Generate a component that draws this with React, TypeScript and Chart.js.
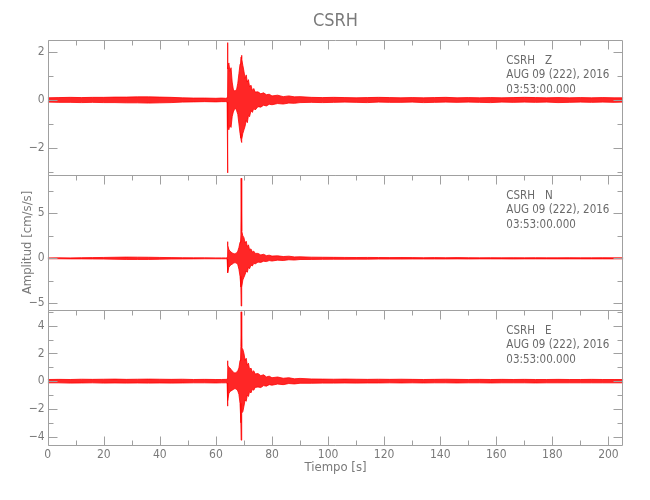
import React, { useEffect, useRef } from 'react';
import { Chart, registerables } from 'chart.js';

Chart.register(...registerables);

// ---- time samples (s) ----
const times = [
  0, 4, 8, 12, 16, 20, 24, 28, 32, 36, 40, 44, 48, 52, 56, 60,
  62, 63.5, 64.0,
  64.1, 64.3, 64.6, 65.0, 65.4, 65.8, 66.2, 66.6, 67.0, 67.4, 67.8, 68.2, 68.6, 68.9, 69.0, 69.1, 69.3, 69.6, 70.0, 70.4, 70.8, 71.2, 71.6, 72.0, 72.5, 73.0, 73.5, 74.0,
  75, 76, 77, 78, 79, 80, 82, 84, 86, 88, 90,
  94, 98, 102, 106, 110, 114, 118, 122, 126, 130, 134, 138, 142, 146, 150, 154, 158, 162, 166, 170, 174, 178, 182, 186, 190, 194, 198, 202, 205.3,
];

// ---- Z component envelope (cm/s/s) ----
const zHi = [
  0.09, 0.10, 0.11, 0.10, 0.11, 0.11, 0.12, 0.12, 0.13, 0.13, 0.12, 0.11, 0.09, 0.08, 0.08, 0.07,
  0.08, 0.07, 0.09,
  2.40, 1.30, 1.55, 1.20, 1.35, 0.75, 0.45, 0.38, 0.40, 0.45, 0.70, 1.10, 1.50, 1.75, 1.80, 1.87, 1.70, 1.45,
  1.20, 0.90, 1.05, 0.75, 0.85, 0.55, 0.62, 0.40, 0.48, 0.33,
  0.34, 0.26, 0.30, 0.22, 0.24, 0.17, 0.20, 0.14, 0.17, 0.13, 0.14,
  0.11, 0.10, 0.11, 0.10, 0.09, 0.10, 0.11, 0.10, 0.09, 0.10, 0.09, 0.10, 0.11, 0.09, 0.10, 0.09, 0.10, 0.09, 0.10, 0.11, 0.10, 0.09, 0.10, 0.09, 0.10, 0.09, 0.10, 0.09, 0.09,
];
const zLo = [
  -0.09, -0.10, -0.10, -0.11, -0.10, -0.11, -0.11, -0.12, -0.12, -0.13, -0.12, -0.11, -0.09, -0.08, -0.07, -0.08,
  -0.07, -0.07, -0.09,
  -3.05, -1.10, -1.25, -1.05, -1.15, -0.70, -0.50, -0.40, -0.35, -0.45, -0.60, -1.00, -1.40, -1.60, -1.70, -1.78, -1.65, -1.40,
  -1.25, -1.10, -0.85, -0.95, -0.65, -0.70, -0.45, -0.52, -0.35, -0.42,
  -0.28, -0.30, -0.22, -0.25, -0.18, -0.20, -0.15, -0.17, -0.13, -0.14, -0.11,
  -0.10, -0.11, -0.10, -0.09, -0.10, -0.11, -0.09, -0.10, -0.10, -0.09, -0.11, -0.10, -0.09, -0.10, -0.09, -0.10, -0.11, -0.09, -0.10, -0.09, -0.10, -0.09, -0.11, -0.10, -0.09, -0.10, -0.09, -0.10, -0.09,
];

// ---- N component envelope ----
const nHi = [
  0.05, 0.06, 0.05, 0.07, 0.08, 0.10, 0.12, 0.14, 0.13, 0.12, 0.10, 0.08, 0.07, 0.06, 0.06, 0.05,
  0.05, 0.05, 0.06,
  1.85, 1.40, 1.00, 0.80, 0.70, 0.60, 0.55, 0.50, 0.55, 0.60, 0.80, 1.20, 1.80, 2.60, 8.90, 6.00, 3.00, 2.50,
  2.30, 1.70, 1.90, 1.30, 1.50, 0.95, 1.05, 0.70, 0.80, 0.55,
  0.55, 0.38, 0.45, 0.30, 0.35, 0.25, 0.28, 0.20, 0.24, 0.16, 0.17,
  0.13, 0.12, 0.11, 0.10, 0.09, 0.10, 0.09, 0.08, 0.09, 0.08, 0.07, 0.08, 0.07, 0.08, 0.07, 0.06, 0.07, 0.06, 0.07, 0.06, 0.07, 0.06, 0.06, 0.07, 0.06, 0.06, 0.07, 0.06, 0.06,
];
const nLo = [
  -0.05, -0.05, -0.06, -0.06, -0.07, -0.08, -0.10, -0.12, -0.12, -0.12, -0.10, -0.08, -0.07, -0.06, -0.05, -0.05,
  -0.05, -0.05, -0.06,
  -1.10, -1.60, -1.00, -0.85, -0.70, -0.65, -0.55, -0.50, -0.50, -0.55, -0.70, -1.20, -2.00, -3.20, -5.30, -3.50, -3.20, -2.40,
  -2.10, -1.80, -1.40, -1.55, -1.00, -1.15, -0.75, -0.85, -0.55, -0.62,
  -0.42, -0.45, -0.32, -0.36, -0.25, -0.30, -0.20, -0.24, -0.16, -0.19, -0.13,
  -0.12, -0.11, -0.10, -0.10, -0.09, -0.09, -0.08, -0.08, -0.08, -0.07, -0.07, -0.07, -0.07, -0.06, -0.07, -0.06, -0.06, -0.06, -0.07, -0.06, -0.06, -0.06, -0.06, -0.06, -0.06, -0.06, -0.06, -0.06, -0.06,
];

// ---- E component envelope ----
const eHi = [
  0.12, 0.13, 0.12, 0.14, 0.13, 0.14, 0.15, 0.13, 0.14, 0.15, 0.14, 0.13, 0.14, 0.12, 0.13, 0.12,
  0.12, 0.13, 0.14,
  1.47, 1.15, 1.00, 0.95, 0.85, 0.75, 0.65, 0.60, 0.60, 0.65, 0.75, 0.95, 1.50, 2.50, 5.00, 3.60, 2.40, 2.30,
  2.00, 1.50, 1.65, 1.15, 1.30, 0.85, 0.95, 0.65, 0.75, 0.52,
  0.55, 0.40, 0.46, 0.31, 0.36, 0.25, 0.30, 0.21, 0.25, 0.17, 0.20,
  0.16, 0.15, 0.14, 0.15, 0.14, 0.13, 0.14, 0.13, 0.14, 0.13, 0.12, 0.13, 0.14, 0.13, 0.12, 0.13, 0.12, 0.13, 0.12, 0.13, 0.12, 0.12, 0.13, 0.12, 0.12, 0.13, 0.12, 0.12, 0.12,
];
const eLo = [
  -0.12, -0.12, -0.14, -0.13, -0.12, -0.14, -0.13, -0.14, -0.13, -0.14, -0.13, -0.14, -0.13, -0.12, -0.12, -0.13,
  -0.12, -0.12, -0.13,
  -1.80, -1.40, -0.90, -0.75, -0.70, -0.65, -0.60, -0.55, -0.55, -0.60, -0.70, -0.95, -1.60, -3.00, -4.25, -3.00, -2.30, -2.20,
  -1.80, -1.35, -1.45, -1.00, -1.10, -0.75, -0.85, -0.58, -0.65, -0.45,
  -0.42, -0.46, -0.32, -0.36, -0.25, -0.29, -0.21, -0.25, -0.17, -0.20, -0.15,
  -0.15, -0.14, -0.14, -0.13, -0.14, -0.13, -0.13, -0.12, -0.13, -0.12, -0.13, -0.12, -0.12, -0.13, -0.12, -0.12, -0.13, -0.12, -0.12, -0.12, -0.13, -0.12, -0.12, -0.12, -0.12, -0.12, -0.12, -0.12, -0.12,
];

// ---- axes ----
const xMin = 0;
const xMax = 205.3;
const xTicks = [0, 20, 40, 60, 80, 100, 120, 140, 160, 180, 200];
const xMinorTicks = [10, 30, 50, 70, 90, 110, 130, 150, 170, 190];

const zRange = [-3.14, 2.51];
const zTicks = [-2, 0, 2];
const zMinor = [-3, -1, 1];
const nRange = [-5.74, 9.26];
const nTicks = [-5, 0, 5];
const nMinor = [-2.5, 2.5, 7.5];
const eRange = [-4.6, 5.13];
const eTicks = [-4, -2, 0, 2, 4];
const eMinor = [-3, -1, 1, 3, 5];

const titleText = 'CSRH';
const xTitle = 'Tiempo [s]';
const yTitle = 'Amplitud [cm/s/s]';
const stationLabels = ['CSRH   Z', 'CSRH   N', 'CSRH   E'];
const dateText = 'AUG 09 (222), 2016';
const timeText = '03:53:00.000';

const FONT = '"Liberation Sans Narrow", "DejaVu Sans Condensed", "Liberation Sans", sans-serif';
const AXIS_COLOR = '#a0a0a0';
const TEXT_COLOR = '#7a7a7a';
const TRACE = '#ff0000';
const TRACE_FILL = 'rgba(255,0,0,0.85)';

const panels = [
  { id: 'yZ', hi: zHi, lo: zLo, range: zRange, ticks: zTicks, minor: zMinor, label: stationLabels[0] },
  { id: 'yN', hi: nHi, lo: nLo, range: nRange, ticks: nTicks, minor: nMinor, label: stationLabels[1] },
  { id: 'yE', hi: eHi, lo: eLo, range: eRange, ticks: eTicks, minor: eMinor, label: stationLabels[2] },
];

const fmt = (v: number) => (v < 0 ? '\u2212' + Math.abs(v) : String(v));

export default function App() {
  const ref = useRef<HTMLCanvasElement | null>(null);

  useEffect(() => {
    if (!ref.current) return;

    const datasets: any[] = [];
    panels.forEach((p) => {
      datasets.push({
        data: times.map((t, i) => ({ x: t, y: p.hi[i] })),
        yAxisID: p.id,
        borderColor: TRACE,
        borderWidth: 0.8,
        pointRadius: 0,
        tension: 0,
        fill: false,
      });
      datasets.push({
        data: times.map((t, i) => ({ x: t, y: p.lo[i] })),
        yAxisID: p.id,
        borderColor: TRACE,
        borderWidth: 0.8,
        pointRadius: 0,
        tension: 0,
        fill: '-1',
        backgroundColor: TRACE_FILL,
      });
    });

    const yScale = (p: any) => ({
      type: 'linear',
      position: 'left',
      stack: 'panels',
      stackWeight: 1,
      min: p.range[0],
      max: p.range[1],
      grid: { display: false, drawTicks: false },
      border: { display: false },
      afterBuildTicks: (axis: any) => {
        axis.ticks = p.ticks.map((v: number) => ({ value: v }));
      },
      afterFit: (axis: any) => {
        axis.width = 40;
      },
      ticks: {
        autoSkip: false,
        padding: 3,
        color: TEXT_COLOR,
        font: { family: FONT, size: 12 },
        callback: (v: any) => fmt(Number(v)),
      },
    });

    const decor = {
      id: 'decor',
      afterDatasetsDraw(chart: any) {
        const { ctx, chartArea: ca, scales } = chart;
        const xs = scales.x;
        const L = Math.round(ca.left) + 0.5;
        const R = Math.round(ca.right) - 0.5;
        ctx.save();
        ctx.strokeStyle = AXIS_COLOR;
        ctx.lineWidth = 1;
        panels.forEach((p, idx) => {
          const ys = scales[p.id];
          const T = Math.round(ys.top) + 0.5;
          const B = Math.round(ys.bottom) + 0.5;
          ctx.beginPath();
          ctx.rect(L, T, R - L, B - T);
          xTicks.forEach((v) => {
            const px = Math.round(xs.getPixelForValue(v)) + 0.5;
            ctx.moveTo(px, T); ctx.lineTo(px, T + 9);
          });
          xMinorTicks.forEach((v) => {
            const px = Math.round(xs.getPixelForValue(v)) + 0.5;
            ctx.moveTo(px, T); ctx.lineTo(px, T + 5);
          });
          if (idx === panels.length - 1) {
            xTicks.forEach((v) => {
              const px = Math.round(xs.getPixelForValue(v)) + 0.5;
              ctx.moveTo(px, B); ctx.lineTo(px, B - 9);
            });
            xMinorTicks.forEach((v) => {
              const px = Math.round(xs.getPixelForValue(v)) + 0.5;
              ctx.moveTo(px, B); ctx.lineTo(px, B - 5);
            });
          }
          p.ticks.forEach((v: number) => {
            const py = Math.round(ys.getPixelForValue(v)) + 0.5;
            ctx.moveTo(L, py); ctx.lineTo(L + 9, py);
            ctx.moveTo(R, py); ctx.lineTo(R - 9, py);
          });
          p.minor.forEach((v: number) => {
            const py = Math.round(ys.getPixelForValue(v)) + 0.5;
            if (py <= T + 1 || py >= B - 1) return;
            ctx.moveTo(L, py); ctx.lineTo(L + 5, py);
            ctx.moveTo(R, py); ctx.lineTo(R - 5, py);
          });
          ctx.stroke();

          ctx.fillStyle = '#6a6a6a';
          ctx.font = `11.5px ${FONT}`;
          ctx.textAlign = 'left';
          ctx.textBaseline = 'middle';
          const tx = ca.right - 117;
          ctx.fillText(p.label, tx, ys.top + 21);
          ctx.fillText(dateText, tx, ys.top + 35.5);
          ctx.fillText(timeText, tx, ys.top + 50.5);
        });

        ctx.fillStyle = TEXT_COLOR;
        ctx.textAlign = 'center';
        ctx.textBaseline = 'middle';
        ctx.font = `18px ${FONT}`;
        ctx.fillText(titleText, (ca.left + ca.right) / 2, 21);
        ctx.font = `13px ${FONT}`;
        ctx.fillText(xTitle, (ca.left + ca.right) / 2, 468);
        const mid = scales.yN;
        ctx.translate(28, (mid.top + mid.bottom) / 2);
        ctx.rotate(-Math.PI / 2);
        ctx.fillText(yTitle, 0, 0);
        ctx.restore();
      },
    };

    const chart = new Chart(ref.current, {
      type: 'line',
      data: { datasets },
      options: {
        animation: false,
        responsive: false,
        devicePixelRatio: 1,
        layout: { padding: { top: 40, left: 7.7, right: 26.7, bottom: 0 } },
        plugins: {
          legend: { display: false },
          title: { display: false },
          tooltip: { enabled: false },
        },
        scales: {
          x: {
            type: 'linear',
            position: 'bottom',
            min: xMin,
            max: xMax,
            grid: { display: false, drawTicks: false },
            border: { display: false },
            afterBuildTicks: (axis: any) => {
              axis.ticks = xTicks.map((v) => ({ value: v }));
            },
            afterFit: (axis: any) => {
              axis.height = 55;
            },
            ticks: {
              autoSkip: false,
              maxRotation: 0,
              padding: 3,
              color: TEXT_COLOR,
              font: { family: FONT, size: 12 },
              callback: (v: any) => fmt(Number(v)),
            },
          },
          yE: yScale(panels[2]),
          yN: yScale(panels[1]),
          yZ: yScale(panels[0]),
        } as any,
      },
      plugins: [decor],
    });

    return () => chart.destroy();
  }, []);

  return (
    <div style={{ position: 'absolute', left: 0, top: 0, width: 650, height: 500, background: '#ffffff' }}>
      <canvas ref={ref} width={650} height={500} />
    </div>
  );
}
